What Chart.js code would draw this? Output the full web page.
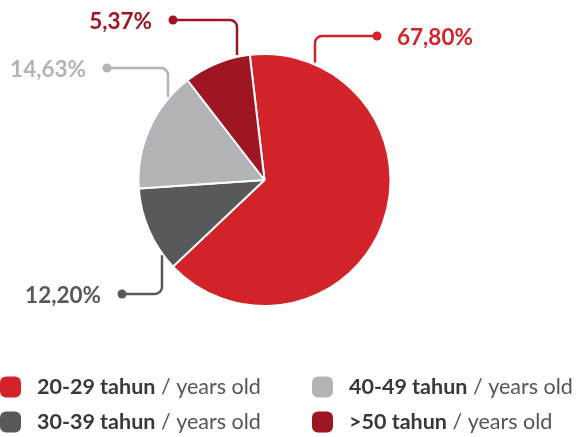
<!DOCTYPE html>
<html>
<head>
<meta charset="utf-8">
<script src="https://cdn.jsdelivr.net/npm/chart.js@4.4.1/dist/chart.umd.min.js"></script>
<style>
  html, body { margin: 0; padding: 0; background: #fff; }
  #wrap { width: 579px; height: 437px; }
</style>
</head>
<body>
<div id="wrap"><canvas id="myChart" width="579" height="437"></canvas></div>
<script>
// age groups, bold part of each legend entry
const ageGroups = ["20-29 tahun", "30-39 tahun", "40-49 tahun", ">50 tahun"];
const unitText = "years old";
// slice sizes as drawn in the picture
const shares = [64.8, 11.0, 15.6, 8.6];
// printed percentages next to each slice
const percentLabels = ["67,80%", "12,20%", "14,63%", "5,37%"];
const colors = ["#d2232a", "#58595b", "#b1b3b6", "#9d1622"];

const FONT = "Lato, 'Open Sans', sans-serif";

// callout placement: dot position, x of the vertical leg, text side
const callouts = [
  { dotX: 377, dotY: 36, legX: 315, side: "right" },
  { dotX: 122, dotY: 294, legX: 162, side: "left" },
  { dotX: 107, dotY: 68, legX: 168, side: "left" },
  { dotX: 173, dotY: 20, legX: 237, side: "left" },
];

const calloutPlugin = {
  id: "callouts",
  afterDraw: (chart) => {
    const { ctx } = chart;
    const arc = chart.getDatasetMeta(0).data[0];
    const cx = arc.x, cy = arc.y, R = arc.outerRadius;
    ctx.save();
    callouts.forEach((c, i) => {
      const col = colors[i];
      const up = c.dotY < cy;
      const dy = Math.sqrt(Math.max(0, R * R - (c.legX - cx) * (c.legX - cx)));
      const endY = up ? cy - dy - 2 : cy + dy + 2;
      const r = 7;
      const dir = c.legX > c.dotX ? 1 : -1;
      ctx.strokeStyle = col;
      ctx.lineWidth = 2.5;
      ctx.beginPath();
      ctx.moveTo(c.dotX, c.dotY);
      ctx.lineTo(c.legX - dir * r, c.dotY);
      ctx.arcTo(c.legX, c.dotY, c.legX, endY, r);
      ctx.lineTo(c.legX, endY);
      ctx.stroke();
      ctx.fillStyle = col;
      ctx.beginPath();
      ctx.arc(c.dotX, c.dotY, 4.5, 0, Math.PI * 2);
      ctx.fill();
      ctx.font = "bold 22.5px " + FONT;
      ctx.textBaseline = "middle";
      if (c.side === "left") {
        ctx.textAlign = "right";
        ctx.fillText(percentLabels[i], c.dotX - 21, c.dotY + 2);
      } else {
        ctx.textAlign = "left";
        ctx.fillText(percentLabels[i], c.dotX + 20, c.dotY + 2);
      }
    });

    // legend, two columns
    const legendPos = [[0, 387], [0, 422], [312, 387], [312, 422]];
    ageGroups.forEach((g, i) => {
      const [x, y] = legendPos[i];
      ctx.fillStyle = colors[i];
      ctx.beginPath();
      ctx.roundRect(x, y - 10.5, 21, 21, 6);
      ctx.fill();
      ctx.textAlign = "left";
      ctx.textBaseline = "middle";
      ctx.font = "bold 21.5px " + FONT;
      ctx.fillStyle = "#383838";
      ctx.fillText(g, x + 37, y);
      const w = ctx.measureText(g).width;
      ctx.font = "21.5px " + FONT;
      ctx.fillStyle = "#555555";
      ctx.fillText(" / " + unitText, x + 37 + w, y);
    });
    ctx.restore();
  },
};

new Chart(document.getElementById("myChart"), {
  type: "pie",
  data: {
    labels: ageGroups,
    datasets: [
      {
        data: shares,
        backgroundColor: colors,
        borderColor: "#ffffff",
        borderWidth: 2,
      },
    ],
  },
  options: {
    responsive: false,
    animation: false,
    rotation: -6.7,
    layout: { padding: { left: 137.5, right: 187.5, top: 53, bottom: 130 } },
    plugins: {
      legend: { display: false },
      tooltip: { enabled: false },
    },
  },
  plugins: [calloutPlugin],
});
</script>
</body>
</html>
